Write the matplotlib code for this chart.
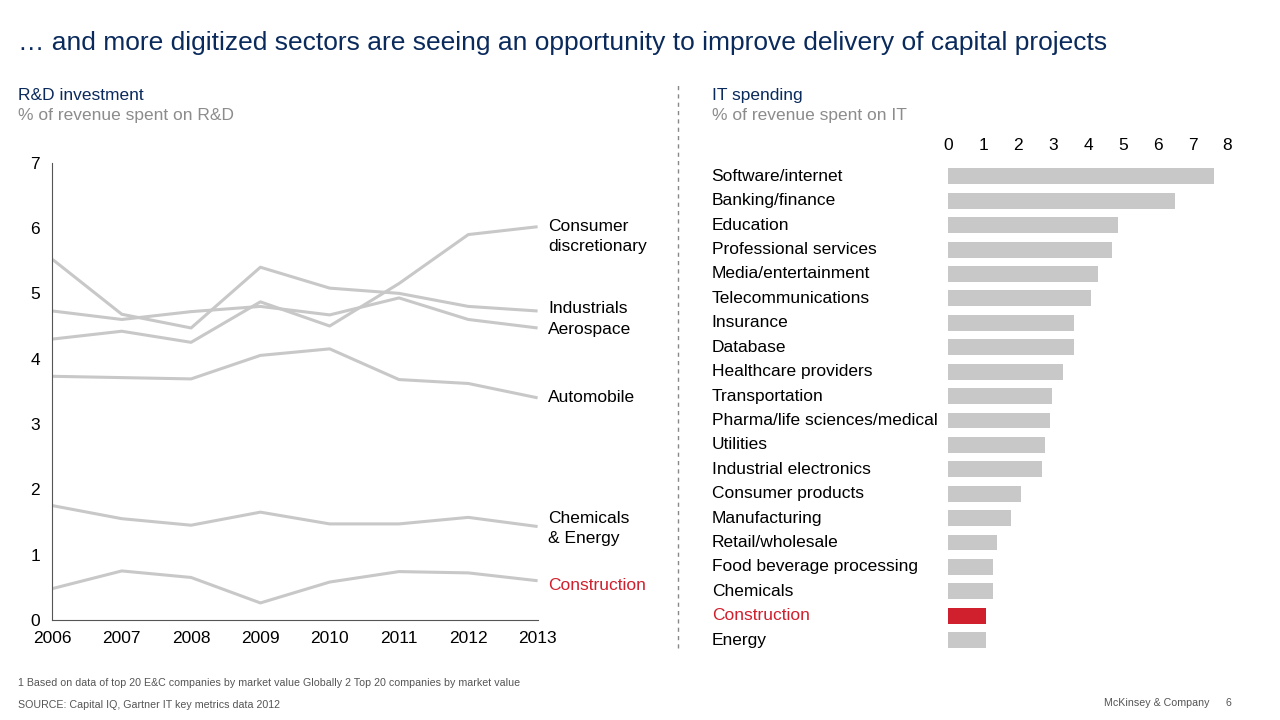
import matplotlib
matplotlib.use('Agg')
import matplotlib.pyplot as plt
from matplotlib.transforms import blended_transform_factory
from matplotlib.lines import Line2D

plt.rcParams['font.family'] = ['Liberation Sans', 'DejaVu Sans']

NAVY = '#0a2a5c'
GREY = '#c8c8c8'
RED = '#d0202e'
TXTGREY = '#8c8c8c'

years = [2006, 2007, 2008, 2009, 2010, 2011, 2012, 2013]
consumer = [4.30, 4.42, 4.25, 4.87, 4.50, 5.15, 5.90, 6.02]
industrials = [5.52, 4.68, 4.47, 5.40, 5.08, 5.00, 4.80, 4.73]
aerospace = [4.73, 4.60, 4.72, 4.80, 4.67, 4.93, 4.60, 4.47]
automobile = [3.73, 3.71, 3.69, 4.05, 4.15, 3.68, 3.62, 3.40]
chemicals_energy = [1.75, 1.55, 1.45, 1.65, 1.47, 1.47, 1.57, 1.43]
construction = [0.48, 0.75, 0.65, 0.26, 0.58, 0.74, 0.72, 0.60]

sectors = ['Software/internet', 'Banking/finance', 'Education', 'Professional services',
           'Media/entertainment', 'Telecommunications', 'Insurance', 'Database',
           'Healthcare providers', 'Transportation', 'Pharma/life sciences/medical',
           'Utilities', 'Industrial electronics', 'Consumer products', 'Manufacturing',
           'Retail/wholesale', 'Food beverage processing', 'Chemicals', 'Construction', 'Energy']
it_spend = [7.6, 6.48, 4.87, 4.7, 4.3, 4.1, 3.6, 3.6, 3.27, 2.98, 2.9, 2.78, 2.69,
            2.09, 1.78, 1.38, 1.29, 1.29, 1.09, 1.09]

fig = plt.figure(figsize=(12.8, 7.2), dpi=100)
fig.text(0.014, 0.94, '… and more digitized sectors are seeing an opportunity to improve delivery of capital projects',
         fontsize=19, color=NAVY, va='center')

# left chart
fig.text(0.014, 0.868, 'R&D investment', fontsize=12.5, color=NAVY, va='center')
fig.text(0.014, 0.839, '% of revenue spent on R&D', fontsize=12.5, color=TXTGREY, va='center')
ax = fig.add_axes([0.041, 0.139, 0.379, 0.635])
series = [(consumer, 'Consumer\ndiscretionary', 5.87, 'black'),
          (industrials, 'Industrials', 4.77, 'black'),
          (aerospace, 'Aerospace', 4.45, 'black'),
          (automobile, 'Automobile', 3.40, 'black'),
          (chemicals_energy, 'Chemicals\n& Energy', 1.4, 'black'),
          (construction, 'Construction', 0.53, RED)]
for vals, lab, ly, c in series:
    ax.plot(years, vals, color=GREY, lw=2.2, solid_capstyle='butt')
    ax.text(2013.15, ly, lab, fontsize=12.5, color=c, va='center', ha='left',
            linespacing=1.35)
ax.set_xlim(2006, 2013)
ax.set_ylim(0, 7)
ax.set_xticks(years)
ax.set_yticks(range(8))
for s in ['top', 'right']:
    ax.spines[s].set_visible(False)
ax.spines['left'].set_color('#555555')
ax.spines['bottom'].set_color('#555555')
ax.tick_params(length=0, labelsize=12.5, pad=8)
ax.tick_params(axis='y', pad=9)

# separator
fig.add_artist(Line2D([0.53, 0.53], [0.1, 0.885], color='#888888', lw=1, ls=(0, (3, 3))))

# right chart
fig.text(0.556, 0.868, 'IT spending', fontsize=12.5, color=NAVY, va='center')
fig.text(0.556, 0.839, '% of revenue spent on IT', fontsize=12.5, color=TXTGREY, va='center')
ax2 = fig.add_axes([0.741, 0.094, 0.218, 0.678])
ypos = list(range(len(sectors)))
colors = [RED if s == 'Construction' else GREY for s in sectors]
ax2.barh(ypos, it_spend, height=0.65, color=colors)
ax2.set_ylim(len(sectors) - 0.5, -0.5)
ax2.set_xlim(0, 8)
ax2.xaxis.tick_top()
ax2.set_xticks(range(9))
ax2.set_yticks([])
ax2.tick_params(length=0, labelsize=12.5, pad=8)
for s in ax2.spines.values():
    s.set_visible(False)
tr = blended_transform_factory(fig.transFigure, ax2.transData)
for i, s in enumerate(sectors):
    ax2.text(0.556, i, s, transform=tr, fontsize=12.5, va='center',
             color=RED if s == 'Construction' else 'black')

fig.text(0.014, 0.052, '1 Based on data of top 20 E&C companies by market value Globally 2 Top 20 companies by market value',
         fontsize=7.7, color='#555555', va='center')
fig.text(0.014, 0.021, 'SOURCE: Capital IQ, Gartner IT key metrics data 2012', fontsize=7.7, color='#555555', va='center')
fig.text(0.945, 0.024, 'McKinsey & Company', fontsize=7.7, color='#555555', va='center', ha='right')
fig.text(0.962, 0.024, '6', fontsize=7.7, color='#555555', va='center', ha='right')

fig.savefig('out.png', dpi=100)
